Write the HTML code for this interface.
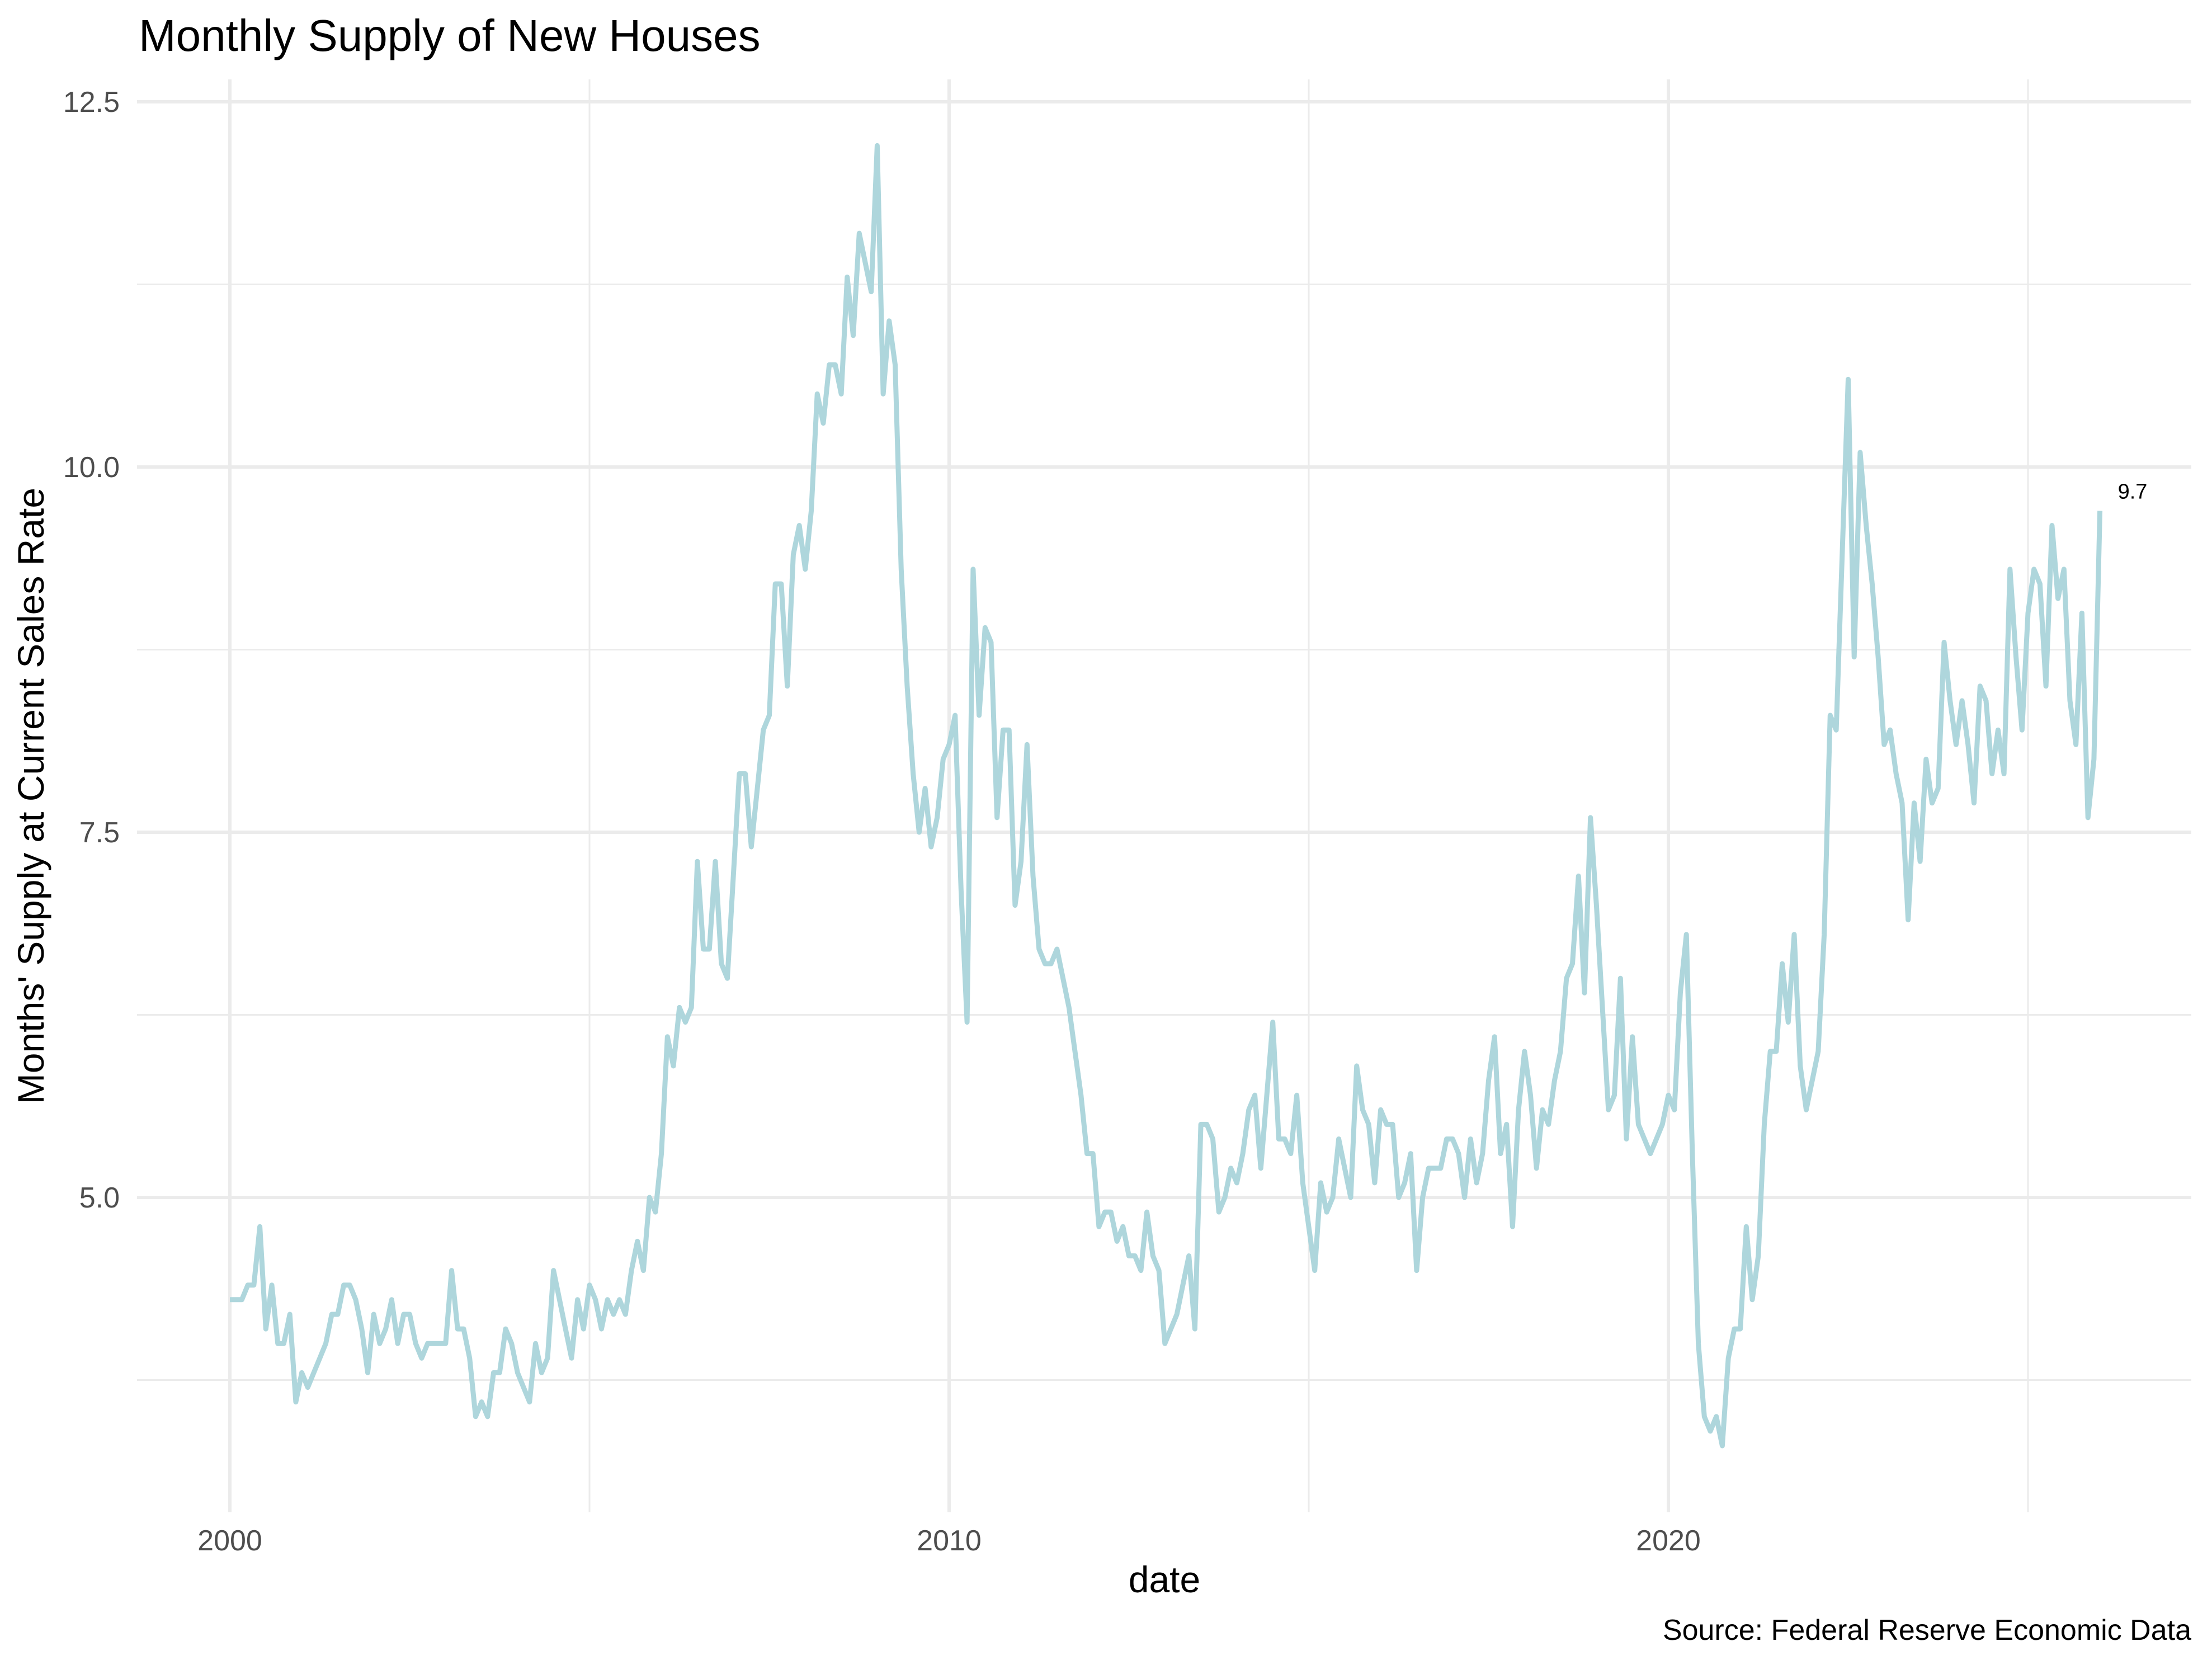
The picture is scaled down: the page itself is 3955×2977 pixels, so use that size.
<!DOCTYPE html>
<html><head><meta charset="utf-8"><style>
html,body{margin:0;padding:0;background:#fff;}
svg{display:block;font-family:"Liberation Sans",Arial,sans-serif;}
</style></head><body>
<svg id="chart" width="3955" height="2977" viewBox="0 0 3955 2977" xmlns="http://www.w3.org/2000/svg">
<rect x="0" y="0" width="3955" height="2977" fill="#ffffff"/>
<g id="grid"></g>
<g id="yticks"></g>
<g id="xticks"></g>
<g id="series"></g>
<text x="248" y="91" font-size="80" fill="#000">Monthly Supply of New Houses</text>
<text x="2082" y="2847" font-size="66" fill="#000" text-anchor="middle">date</text>
<text transform="translate(78,1423) rotate(-90)" font-size="66" fill="#000" text-anchor="middle">Months' Supply at Current Sales Rate</text>
<text x="3918" y="2932" font-size="52" fill="#000" text-anchor="end">Source: Federal Reserve Economic Data</text>
</svg>
<script>
const startYear = 2000;
const supplyValues = [
4.3,4.3,4.3,4.4,4.4,4.8,4.1,4.4,4.0,4.0,4.2,3.6,
3.8,3.7,3.8,3.9,4.0,4.2,4.2,4.4,4.4,4.3,4.1,3.8,
4.2,4.0,4.1,4.3,4.0,4.2,4.2,4.0,3.9,4.0,4.0,4.0,
4.0,4.5,4.1,4.1,3.9,3.5,3.6,3.5,3.8,3.8,4.1,4.0,
3.8,3.7,3.6,4.0,3.8,3.9,4.5,4.3,4.1,3.9,4.3,4.1,
4.4,4.3,4.1,4.3,4.2,4.3,4.2,4.5,4.7,4.5,5.0,4.9,
5.3,6.1,5.9,6.3,6.2,6.3,7.3,6.7,6.7,7.3,6.6,6.5,
7.2,7.9,7.9,7.4,7.8,8.2,8.3,9.2,9.2,8.5,9.4,9.6,
9.3,9.7,10.5,10.3,10.7,10.7,10.5,11.3,10.9,11.6,11.4,11.2,
12.2,10.5,11.0,10.7,9.3,8.5,7.9,7.5,7.8,7.4,7.6,8.0,
8.1,8.3,7.1,6.2,9.3,8.3,8.9,8.8,7.6,8.2,8.2,7.0,
7.3,8.1,7.2,6.7,6.6,6.6,6.7,6.5,6.3,6.0,5.7,5.3,
5.3,4.8,4.9,4.9,4.7,4.8,4.6,4.6,4.5,4.9,4.6,4.5,
4.0,4.1,4.2,4.4,4.6,4.1,5.5,5.5,5.4,4.9,5.0,5.2,
5.1,5.3,5.6,5.7,5.2,5.7,6.2,5.4,5.4,5.3,5.7,5.1,
4.8,4.5,5.1,4.9,5.0,5.4,5.2,5.0,5.9,5.6,5.5,5.1,
5.6,5.5,5.5,5.0,5.1,5.3,4.5,5.0,5.2,5.2,5.2,5.4,
5.4,5.3,5.0,5.4,5.1,5.3,5.8,6.1,5.3,5.5,4.8,5.6,
6.0,5.7,5.2,5.6,5.5,5.8,6.0,6.5,6.6,7.2,6.4,7.6,
7.0,6.3,5.6,5.7,6.5,5.4,6.1,5.5,5.4,5.3,5.4,5.5,
5.7,5.6,6.4,6.8,5.3,4.0,3.5,3.4,3.5,3.3,3.9,4.1,
4.1,4.8,4.3,4.6,5.5,6.0,6.0,6.6,6.2,6.8,5.9,5.6,
5.8,6.0,6.8,8.3,8.2,9.4,10.6,8.7,10.1,9.6,9.2,8.7,
8.1,8.2,7.9,7.7,6.9,7.7,7.3,8.0,7.7,7.8,8.8,8.4,
8.1,8.4,8.1,7.7,8.5,8.4,7.9,8.2,7.9,9.3,8.7,8.2,
9.0,9.3,9.2,8.5,9.6,9.1,9.3,8.4,8.1,9.0,7.6,8.0,9.7
];
const yMajorTicks = [5.0, 7.5, 10.0, 12.5];
const yTickLabels = ["5.0", "7.5", "10.0", "12.5"];
const yMinorTicks = [3.75, 6.25, 8.75, 11.25];
const xMajorTicks = [2000, 2010, 2020];
const xTickLabels = ["2000", "2010", "2020"];
const xMinorTicks = [2005, 2015, 2025];

const NS = "http://www.w3.org/2000/svg";
const panel = {left: 245, right: 3918, top: 142, bottom: 2704};
function xScale(t){ return 411 + (t - 2000) * 128.6; }
function yScale(v){ return 2141 - (v - 5) * 261.2; }
function mk(tag, attrs){ const e = document.createElementNS(NS, tag); for (const k in attrs) e.setAttribute(k, attrs[k]); return e; }

const grid = document.getElementById('grid');
yMinorTicks.forEach(v => {
  const l = mk('line', {x1: panel.left, x2: panel.right, y1: yScale(v), y2: yScale(v), stroke: '#ebebeb', 'stroke-width': 3});
  
  
  grid.appendChild(l);
});
xMinorTicks.forEach(t => {
  const l = mk('line', {x1: xScale(t), x2: xScale(t), y1: panel.top, y2: panel.bottom, stroke: '#ebebeb', 'stroke-width': 3});
  
  
  grid.appendChild(l);
});
yMajorTicks.forEach(v => {
  const l = mk('line', {x1: panel.left, x2: panel.right, y1: yScale(v), y2: yScale(v), stroke: '#ebebeb', 'stroke-width': 6});
  
  
  grid.appendChild(l);
});
xMajorTicks.forEach(t => {
  const l = mk('line', {x1: xScale(t), x2: xScale(t), y1: panel.top, y2: panel.bottom, stroke: '#ebebeb', 'stroke-width': 6});
  
  
  grid.appendChild(l);
});

const yt = document.getElementById('yticks');
yMajorTicks.forEach((v, i) => {
  const tx = mk('text', {x: 214, y: yScale(v) + 18, 'font-size': 52, fill: '#4d4d4d', 'text-anchor': 'end'});
  tx.textContent = yTickLabels[i];
  
  
  yt.appendChild(tx);
});
const xt = document.getElementById('xticks');
xMajorTicks.forEach((t, i) => {
  const tx = mk('text', {x: xScale(t), y: 2772, 'font-size': 52, fill: '#4d4d4d', 'text-anchor': 'middle'});
  tx.textContent = xTickLabels[i];
  
  
  xt.appendChild(tx);
});

const series = document.getElementById('series');
const pts = supplyValues.map((v, i) => xScale(startYear + i / 12).toFixed(1) + ',' + yScale(v).toFixed(1));
const line = mk('polyline', {points: pts.join(' '), fill: 'none', stroke: '#aed6dc', 'stroke-width': 9, 'stroke-linejoin': 'round', 'stroke-linecap': 'butt'});


series.appendChild(line);

const lastIdx = supplyValues.length - 1;
const lastVal = supplyValues[lastIdx];
const lbl = mk('text', {x: xScale(startYear + lastIdx / 12) + 32, y: yScale(lastVal) - 22, 'font-size': 38, fill: '#000'});
lbl.textContent = lastVal.toFixed(1);


series.appendChild(lbl);
</script>
</body></html>
